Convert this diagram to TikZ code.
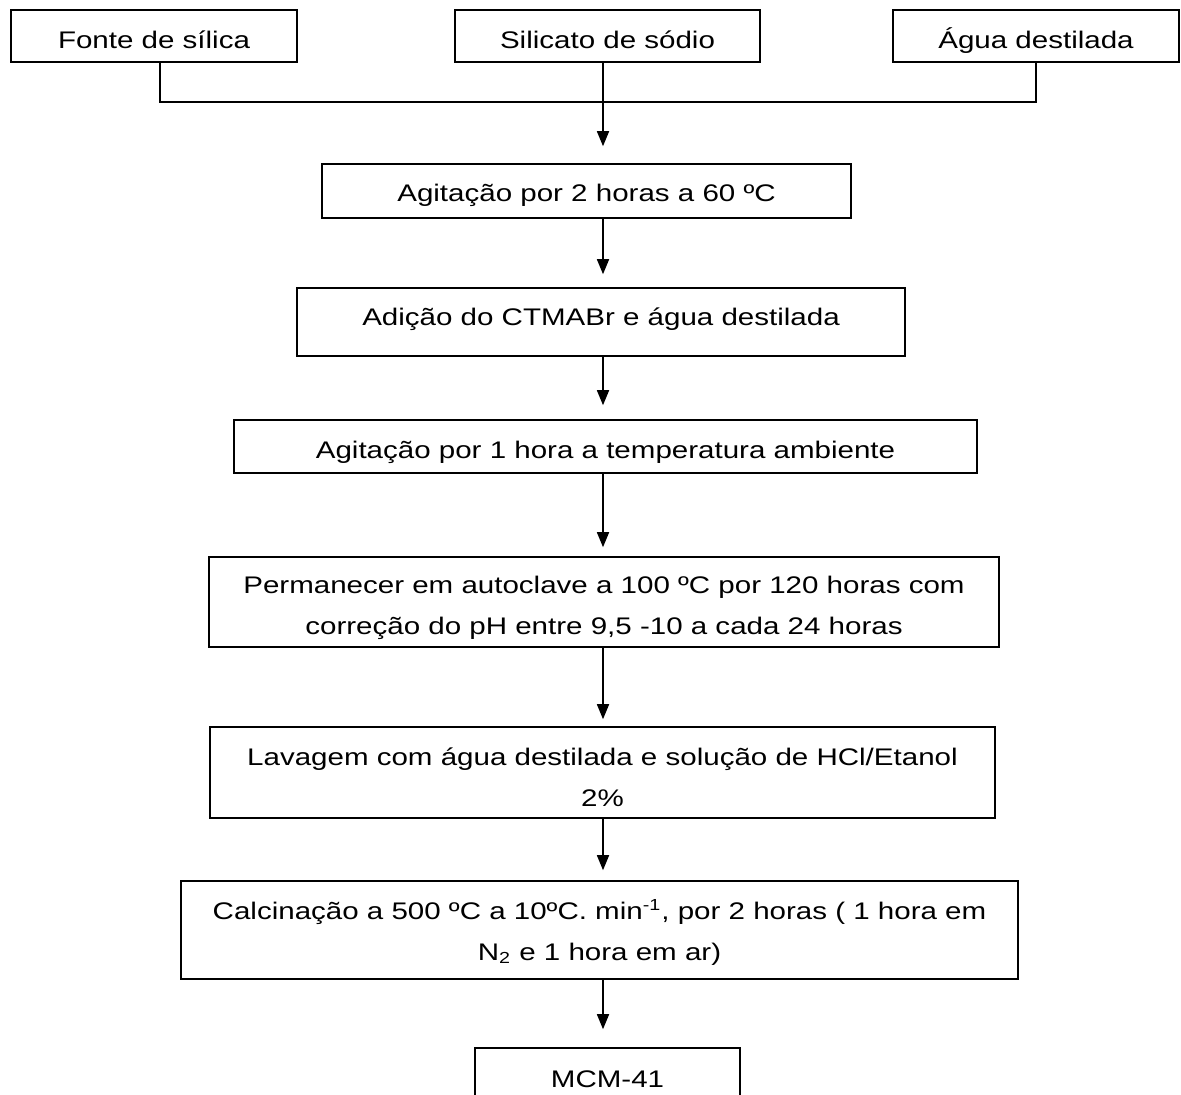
\documentclass[tikz,border=0pt]{standalone}
\usepackage{fontspec}
\setmainfont{Liberation Sans}[FakeStretch=1.23]
\usetikzlibrary{arrows.meta,calc}
\tikzset{
    etapa/.style={draw, line width=0.8pt, align=center, inner sep=0pt,
        font=\fontsize{12}{20.5}\selectfont},
    linha/.style={etapa, text height=#1, text depth=0pt},
    linha/.default=11.6pt,
    seta/.style={-{Triangle[length=7.5pt,width=6pt]}, line width=0.8pt},
    liga/.style={line width=0.8pt},
}
\newcommand{\desce}[1]{\rule{0pt}{#1}}
\begin{document}
\begin{tikzpicture}[x=0.5pt,y=-0.5pt]
    \useasboundingbox (0,0) rectangle (1181,1094);
    \clip (0,0) rectangle (1181,1094);

    \node[linha=12.6pt, minimum width=143pt, minimum height=26pt] (fonte) at (154,36) {Fonte de sílica};
    \node[linha=12.6pt, minimum width=152.5pt, minimum height=26pt] (silicato) at (607.5,36) {Silicato de sódio};
    \node[linha=12.6pt, minimum width=143pt, minimum height=26pt] (agua) at (1036,36) {Água destilada};

    \node[linha=10.2pt, minimum width=264.5pt, minimum height=27pt] (agit2) at (586.5,191) {Agitação por 2 horas a 60 ºC};
    \node[linha=3.6pt, minimum width=304pt, minimum height=34pt] (adicao) at (601,322) {Adição do CTMABr e água destilada};
    \node[linha=12pt, minimum width=371.5pt, minimum height=26.5pt] (agit1) at (605.5,446.5) {Agitação por 1 hora a temperatura ambiente};
    \node[etapa, minimum width=395pt, minimum height=45pt] (autoclave) at (604,602)
        {\desce{15pt}Permanecer em autoclave a 100 ºC por 120 horas com\\correção do pH entre 9,5 -10 a cada 24 horas};
    \node[etapa, minimum width=392.5pt, minimum height=45.5pt] (lavagem) at (602.5,772.5)
        {\desce{14pt}Lavagem com água destilada e solução de HCl/Etanol\\2\%};
    \node[etapa, minimum width=418.5pt, minimum height=49pt] (calcinacao) at (599.5,930)
        {\desce{12pt}Calcinação a 500 ºC a 10ºC. min\textsuperscript{-1}, por 2 horas ( 1 hora em\\N\textsubscript{2} e 1 hora em ar)};
    \node[linha, minimum width=132.5pt, minimum height=28pt] (mcm) at (607.5,1076) {MCM-41};

    \coordinate (juncao) at (603,102);
    \draw[liga] ([xshift=3pt]fonte.south) |- (juncao) -| (agua.south);

    \foreach \a/\b/\g in {silicato/agit2/8.5pt, agit2/adicao/6.5pt, adicao/agit1/7pt,
        agit1/autoclave/4.5pt, autoclave/lavagem/3.5pt, lavagem/calcinacao/5pt, calcinacao/mcm/9pt}
        \draw[seta, shorten >=\g] (\a.south -| juncao) -- (\b.north -| juncao);
\end{tikzpicture}
\end{document}
